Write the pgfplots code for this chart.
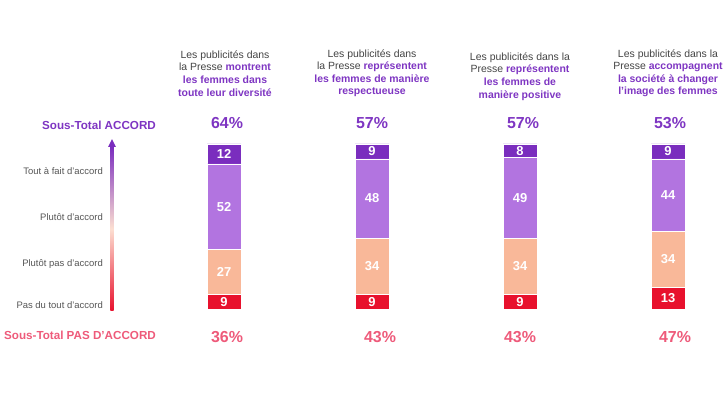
\documentclass[border=0pt]{standalone}
\usepackage{pgfplots}
\pgfplotsset{compat=1.18}
\usepackage{pgfplotstable}
\usepackage{fontspec}
\setmainfont{Liberation Sans}
\definecolor{cTAF}{HTML}{7A2DBE}
\definecolor{cPA}{HTML}{B274E0}
\definecolor{cPPA}{HTML}{F9B899}
\definecolor{cPDT}{HTML}{E8112D}
\definecolor{tPurple}{HTML}{7E35C2}
\definecolor{tPink}{HTML}{EE5A7A}
\definecolor{tGray}{HTML}{444444}
\definecolor{tLabel}{HTML}{555555}

% bars: x position, then segments bottom -> top
\pgfplotstableread{
x    pdt ppa pa  taf
224  9   27  52  12
372  9   34  48  9
520  9   34  49  8
668  13  34  44  9
}\bars
% segment labels (centre of each segment)
\pgfplotstableread{
x    y     lab
224  4.5   9
224  22.5  27
224  62    52
224  94    12
372  4.5   9
372  26    34
372  67    48
372  95.5  9
520  4.5   9
520  26    34
520  67.5  49
520  96    8
668  6.5   13
668  30    34
668  69    44
668  95.5  9
}\seglabels
\pgfplotstableread{
x    y      lab
227  112.7  64\%
372  112.7  57\%
523  112.7  57\%
670  112.7  53\%
}\toplabels
\pgfplotstableread{
x    y      lab
227  -17.0  36\%
380  -17.0  43\%
520  -17.0  43\%
675  -17.0  47\%
}\botlabels

\begin{document}
\begin{tikzpicture}
\pgfplotsset{base/.style={
  width=728bp, height=410bp, scale only axis,
  xmin=0, xmax=728, ymin=-61.21, ymax=187.27,
  hide axis, clip=false}}
\begin{axis}[base, ybar stacked, bar width=34]
\addplot[fill=cPDT, draw=white, line width=0.4pt] table[x=x,y=pdt]{\bars};
\addplot[fill=cPPA, draw=white, line width=0.4pt] table[x=x,y=ppa]{\bars};
\addplot[fill=cPA, draw=white, line width=0.4pt] table[x=x,y=pa]{\bars};
\addplot[fill=cTAF, draw=white, line width=0.4pt] table[x=x,y=taf]{\bars};
\end{axis}
\begin{axis}[base]
\path (axis cs:0,-61.21) rectangle (axis cs:728,187.27);
\addplot[draw=none, mark=none, nodes near coords, point meta=explicit symbolic,
  every node near coord/.append style={anchor=center, text=white, font=\fontsize{13}{15}\selectfont\bfseries}]
  table[x=x,y=y,meta=lab]{\seglabels};
\addplot[draw=none, mark=none, nodes near coords, point meta=explicit symbolic,
  every node near coord/.append style={anchor=center, text=tPurple, font=\fontsize{16}{18}\selectfont\bfseries}]
  table[x=x,y=y,meta=lab]{\toplabels};
\addplot[draw=none, mark=none, nodes near coords, point meta=explicit symbolic,
  every node near coord/.append style={anchor=center, text=tPink, font=\fontsize{16}{18}\selectfont\bfseries}]
  table[x=x,y=y,meta=lab]{\botlabels};

% column titles
\begin{scope}[every node/.style={anchor=north, align=center, inner sep=0pt, text=tGray,
   font=\fontsize{10.5}{12.7}\selectfont}]
\node at (axis cs:225,156.7) {Les publicités dans\\la Presse \textcolor{tPurple}{\bfseries montrent}\\\textcolor{tPurple}{\bfseries les femmes dans}\\\textcolor{tPurple}{\bfseries toute leur diversité}};
\node at (axis cs:372,157.5) {Les publicités dans\\la Presse \textcolor{tPurple}{\bfseries représentent}\\\textcolor{tPurple}{\bfseries les femmes de manière}\\\textcolor{tPurple}{\bfseries respectueuse}};
\node at (axis cs:520,155.5) {Les publicités dans la\\Presse \textcolor{tPurple}{\bfseries représentent}\\\textcolor{tPurple}{\bfseries les femmes de}\\\textcolor{tPurple}{\bfseries manière positive}};
\node at (axis cs:668,157.5) {Les publicités dans la\\Presse \textcolor{tPurple}{\bfseries accompagnent}\\\textcolor{tPurple}{\bfseries la société à changer}\\\textcolor{tPurple}{\bfseries l'image des femmes}};
\end{scope}

% left scale labels
\begin{scope}[every node/.style={anchor=east, inner sep=0pt, text=tLabel, font=\fontsize{9.5}{11}\selectfont}]
\node at (axis cs:103,83.6) {Tout à fait d'accord};
\node at (axis cs:103,55.8) {Plutôt d'accord};
\node at (axis cs:103,27.3) {Plutôt pas d'accord};
\node at (axis cs:103,2.4) {Pas du tout d'accord};
\end{scope}
\node[inner sep=0pt, text=tPurple, font=\fontsize{11.7}{13}\selectfont\bfseries] at (axis cs:99,111.5) {Sous-Total ACCORD};
\node[inner sep=0pt, text=tPink, font=\fontsize{11.7}{13}\selectfont\bfseries] at (axis cs:80,-15.8) {Sous-Total PAS D'ACCORD};

% gradient arrow
\shade[bottom color=cPDT, top color=cTAF, middle color=cPPA!45!white]
  (axis cs:110.4,-1.2) rectangle (axis cs:113.6,98.5);
\fill[cTAF] (axis cs:108.2,98.3) -- (axis cs:115.8,98.3) -- (axis cs:112,103.0) -- cycle;
\end{axis}
\end{tikzpicture}
\end{document}
